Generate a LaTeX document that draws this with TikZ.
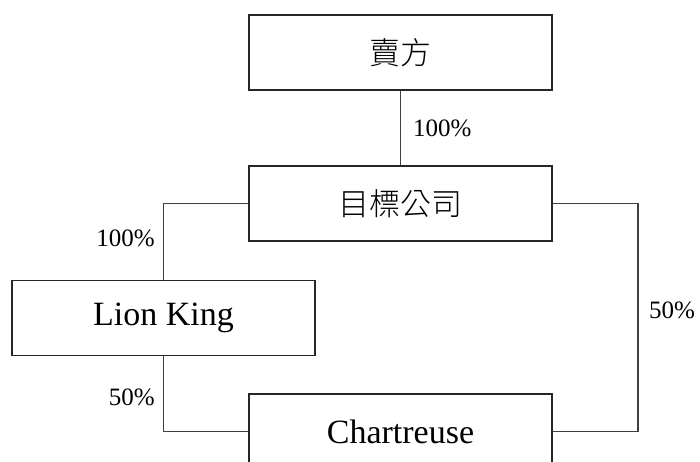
\documentclass[tikz,border=0pt]{standalone}
\usepackage{fontspec}
\setmainfont{Liberation Serif}
\newfontfamily\cjk{Noto Sans CJK TC Light}
\begin{document}
\begin{tikzpicture}[x=1pt,y=-1pt,
  box/.style={draw=black!85,line width=1.2pt,minimum width=303pt,minimum height=75pt,inner sep=0pt,font=\fontsize{34}{38}\selectfont},
  cbox/.style={box,font=\cjk\fontsize{31}{36}\selectfont},
  link/.style={draw=black!75,line width=1.2pt},
  pct/.style={inner sep=0pt,font=\fontsize{25}{28}\selectfont}]
\useasboundingbox (0,0) rectangle (700,462);
\node[cbox] (seller) at (400.5,52.5) {賣方};
\node[cbox] (target) at (400.5,203.5) {目標公司};
\node[box] (lion) at (163.5,318) {Lion King};
\node[box] (chart) at (400.5,431.5) {Chartreuse};
\coordinate (rc) at (638,0);
\draw[link] (seller.south) -- (target.north);
\draw[link] (target.west) -| (lion.north);
\draw[link] (lion.south) |- (chart.west);
\draw[link] (target.east) -- (target.east -| rc) |- (chart.east);
\node[pct,anchor=west] (p1) at (413,128) {100\%};
\node[pct,anchor=east] (p2) at (155,238) {100\%};
\node[pct,anchor=east] (p3) at (155,397) {50\%};
\node[pct,anchor=west] (p4) at (649,310) {50\%};
\end{tikzpicture}
\end{document}
